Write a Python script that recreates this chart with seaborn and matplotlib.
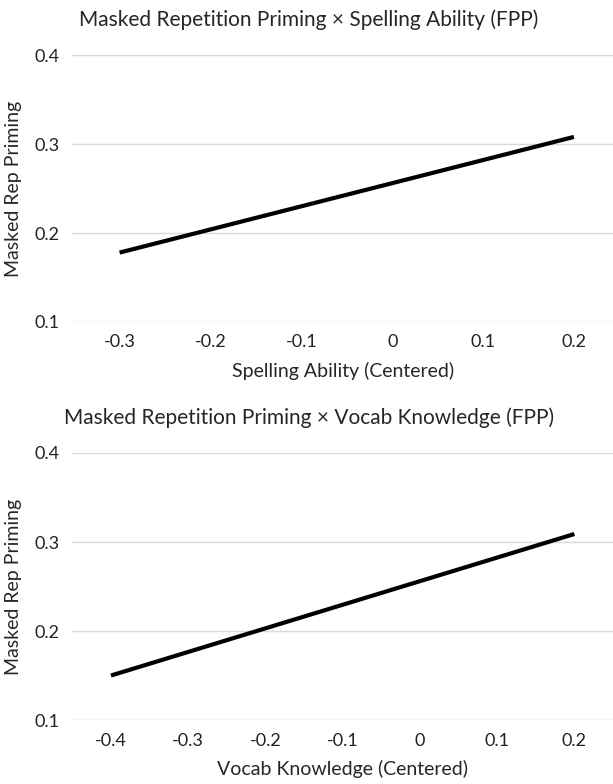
import pandas as pd
import seaborn as sns
import matplotlib.pyplot as plt

# Values
spelling_x = [-0.3, -0.2, -0.1, 0.0, 0.1, 0.2]
spelling_y = [0.178, 0.204, 0.230, 0.256, 0.282, 0.308]
vocab_x = [-0.4, -0.3, -0.2, -0.1, 0.0, 0.1, 0.2]
vocab_y = [0.150, 0.1765, 0.203, 0.2295, 0.256, 0.2825, 0.309]
y_ticks = [0.1, 0.2, 0.3, 0.4]

sns.set_style('white')
plt.rcParams['font.family'] = ['Lato', 'DejaVu Sans']

fig = plt.figure(figsize=(6.13, 7.84), dpi=100)
ax1 = fig.add_axes([0.118, 0.5893, 0.882, 0.3405])
ax2 = fig.add_axes([0.118, 0.0816, 0.882, 0.3406])

panels = [
    (ax1, spelling_x, spelling_y, 'Masked Repetition Priming × Spelling Ability (FPP)',
     'Spelling Ability (Centered)', (-0.352, 0.243)),
    (ax2, vocab_x, vocab_y, 'Masked Repetition Priming × Vocab Knowledge (FPP)',
     'Vocab Knowledge (Centered)', (-0.45, 0.25)),
]

for ax, xs, ys, title, xlabel, xlim in panels:
    df = pd.DataFrame({'x': xs, 'y': ys})
    sns.lineplot(data=df, x='x', y='y', ax=ax, color='black', linewidth=3.0,
                 solid_capstyle='butt')
    ax.set_xlim(*xlim)
    ax.set_ylim(0.1, 0.4)
    ax.set_yticks(y_ticks)
    ax.set_yticklabels([f'{v:g}' for v in y_ticks])
    ax.set_xticks(xs)
    ax.set_xticklabels([f'{v:g}' for v in xs])
    ax.grid(axis='y', color='#d9d9d9', linewidth=1.0)
    ax.set_axisbelow(True)
    for s in ax.spines.values():
        s.set_visible(False)
    ax.tick_params(length=0, labelsize=13, colors='#222222', pad=9)
    ax.set_title(title, fontsize=15, pad=21, x=0.437)
    ax.set_xlabel(xlabel, fontsize=14, labelpad=8)
    ax.set_ylabel('Masked Rep Priming', fontsize=14, labelpad=9)

fig.savefig('out.png', dpi=100)
